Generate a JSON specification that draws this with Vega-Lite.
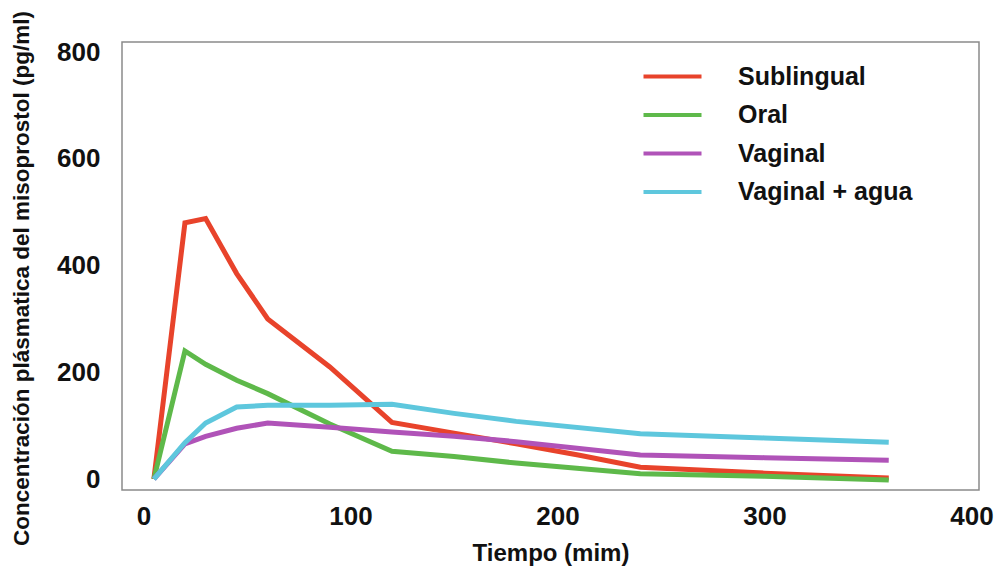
{
  "$schema": "https://vega.github.io/schema/vega-lite/v6.json",
  "autosize": "none",
  "width": 857,
  "height": 448,
  "padding": {"left": 122, "top": 42, "right": 20, "bottom": 81},
  "background": "white",
  "config": {
    "font": "Liberation Sans",
    "view": {"stroke": "#8a8a8a", "strokeWidth": 1.5}
  },
  "data": {
    "values": [
      {"t": 5, "v": 0, "s": "Sublingual"},
      {"t": 20, "v": 480, "s": "Sublingual"},
      {"t": 30, "v": 488, "s": "Sublingual"},
      {"t": 45, "v": 385, "s": "Sublingual"},
      {"t": 60, "v": 300, "s": "Sublingual"},
      {"t": 90, "v": 210, "s": "Sublingual"},
      {"t": 120, "v": 106, "s": "Sublingual"},
      {"t": 150, "v": 86, "s": "Sublingual"},
      {"t": 180, "v": 66, "s": "Sublingual"},
      {"t": 210, "v": 45, "s": "Sublingual"},
      {"t": 240, "v": 22, "s": "Sublingual"},
      {"t": 300, "v": 11, "s": "Sublingual"},
      {"t": 360, "v": 2, "s": "Sublingual"},
      {"t": 5, "v": 0, "s": "Oral"},
      {"t": 20, "v": 240, "s": "Oral"},
      {"t": 30, "v": 215, "s": "Oral"},
      {"t": 45, "v": 185, "s": "Oral"},
      {"t": 60, "v": 160, "s": "Oral"},
      {"t": 90, "v": 103, "s": "Oral"},
      {"t": 120, "v": 52, "s": "Oral"},
      {"t": 150, "v": 42, "s": "Oral"},
      {"t": 180, "v": 30, "s": "Oral"},
      {"t": 240, "v": 10, "s": "Oral"},
      {"t": 300, "v": 5, "s": "Oral"},
      {"t": 360, "v": -2, "s": "Oral"},
      {"t": 5, "v": 0, "s": "Vaginal"},
      {"t": 20, "v": 66, "s": "Vaginal"},
      {"t": 30, "v": 80, "s": "Vaginal"},
      {"t": 45, "v": 95, "s": "Vaginal"},
      {"t": 60, "v": 105, "s": "Vaginal"},
      {"t": 90, "v": 97, "s": "Vaginal"},
      {"t": 120, "v": 88, "s": "Vaginal"},
      {"t": 150, "v": 80, "s": "Vaginal"},
      {"t": 180, "v": 70, "s": "Vaginal"},
      {"t": 240, "v": 45, "s": "Vaginal"},
      {"t": 300, "v": 40, "s": "Vaginal"},
      {"t": 360, "v": 35, "s": "Vaginal"},
      {"t": 5, "v": 0, "s": "Vaginal + agua"},
      {"t": 20, "v": 68, "s": "Vaginal + agua"},
      {"t": 30, "v": 105, "s": "Vaginal + agua"},
      {"t": 45, "v": 135, "s": "Vaginal + agua"},
      {"t": 60, "v": 138, "s": "Vaginal + agua"},
      {"t": 90, "v": 138, "s": "Vaginal + agua"},
      {"t": 120, "v": 140, "s": "Vaginal + agua"},
      {"t": 150, "v": 123, "s": "Vaginal + agua"},
      {"t": 180, "v": 108, "s": "Vaginal + agua"},
      {"t": 240, "v": 85, "s": "Vaginal + agua"},
      {"t": 300, "v": 77, "s": "Vaginal + agua"},
      {"t": 360, "v": 69, "s": "Vaginal + agua"}
    ]
  },
  "mark": {"type": "line", "strokeWidth": 5, "strokeJoin": "miter"},
  "encoding": {
    "x": {
      "field": "t",
      "type": "quantitative",
      "scale": {"domain": [-10.4, 403.6], "nice": false, "zero": false},
      "axis": {
        "title": "Tiempo (mim)",
        "values": [0, 100, 200, 300, 400],
        "grid": false,
        "ticks": false,
        "domain": false,
        "labelFont": "Liberation Sans",
        "labelFontWeight": "bold",
        "labelFontSize": 26,
        "labelColor": "#111111",
        "labelBaseline": "alphabetic",
        "labelPadding": 34,
        "labelFlush": false,
        "titleFont": "Liberation Sans",
        "titleFontWeight": "bold",
        "titleFontSize": 24,
        "titleColor": "#111111",
        "titleBaseline": "alphabetic",
        "titleY": 70
      }
    },
    "y": {
      "field": "v",
      "type": "quantitative",
      "scale": {"domain": [-20.6, 819], "nice": false, "zero": false},
      "axis": {
        "title": "Concentración plásmatica del misoprostol (pg/ml)",
        "values": [0, 200, 400, 600, 800],
        "grid": false,
        "ticks": false,
        "domain": false,
        "labelFont": "Liberation Sans",
        "labelFontWeight": "bold",
        "labelFontSize": 26,
        "labelColor": "#111111",
        "labelPadding": 22,
        "labelFlush": false,
        "titleFont": "Liberation Sans",
        "titleFontWeight": "bold",
        "titleFontSize": 22.5,
        "titleColor": "#111111",
        "titleAngle": -90,
        "titleAlign": "center",
        "titleBaseline": "middle",
        "titleX": -101,
        "titleY": 236
      }
    },
    "color": {
      "field": "s",
      "type": "nominal",
      "scale": {
        "domain": ["Sublingual", "Oral", "Vaginal", "Vaginal + agua"],
        "range": ["#e8432b", "#5eb94a", "#b053b8", "#5ec7dd"]
      },
      "legend": {
        "title": null,
        "orient": "none",
        "legendX": 538,
        "legendY": 22,
        "symbolType": "M-2.9,0H2.9",
        "symbolSize": 400,
        "symbolStrokeWidth": 4,
        "rowPadding": 12.5,
        "labelOffset": 53,
        "labelLimit": 400,
        "labelFont": "Liberation Sans",
        "labelFontWeight": "bold",
        "labelFontSize": 25,
        "labelColor": "#111111"
      }
    }
  }
}
